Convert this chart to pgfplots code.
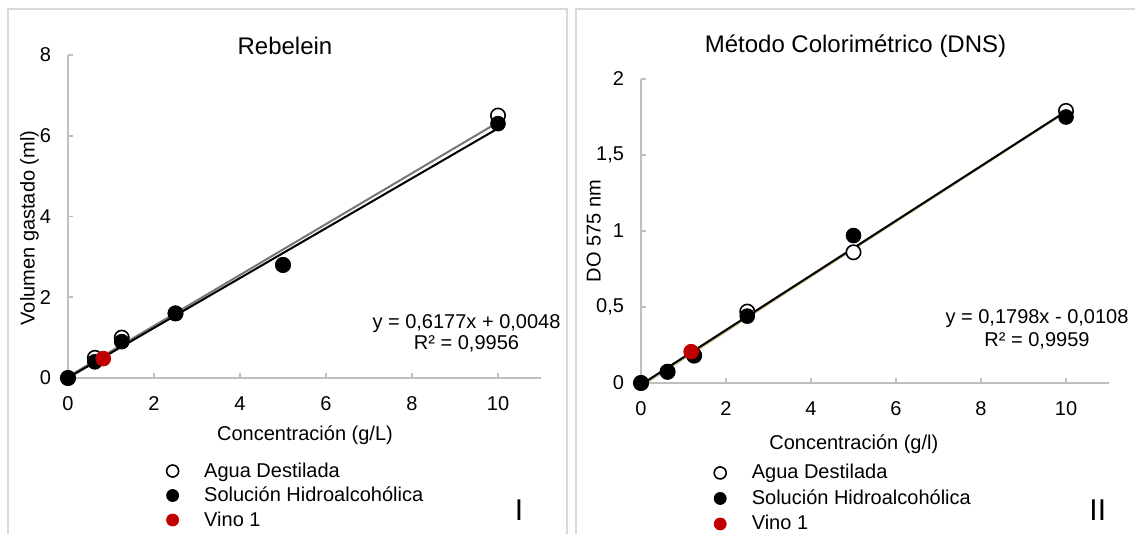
\documentclass[border=0pt]{standalone}
\usepackage{fontspec}
\setmainfont{Liberation Sans}
\usepackage{pgfplots}
\pgfplotsset{compat=1.18}
\definecolor{axisgray}{RGB}{191,191,191}
\definecolor{framegray}{RGB}{217,217,217}
\definecolor{vinored}{RGB}{192,0,0}
\definecolor{trendgray}{RGB}{118,118,118}
\definecolor{trendtan}{RGB}{196,182,128}

\pgfplotsset{
  panel/.style={
    scale only axis, clip=false,
    axis x line=bottom, axis y line=left,
    axis line style={draw=axisgray, line width=0.9pt, -},
    tick style={draw=axisgray, line width=0.9pt},
    major tick length=2.5pt, tick align=inside,
    tick label style={font=\fontsize{10}{12}\selectfont, text=black},
    xticklabel shift=5.6pt, yticklabel shift=5pt,
    /pgf/number format/use comma,
    /pgf/number format/1000 sep={},
    /pgf/number format/assume math mode=true,
    xmin=0, xmax=11, xtick={0,2,4,6,8,10},
    legend cell align=left,
    legend image code/.code={\draw[##1, mark size=3pt] plot coordinates {(0pt,0pt)};},
  },
  agua/.style={only marks, mark=*, mark size=3.6pt, mark options={fill=white, draw=black, line width=0.8pt}},
  sol/.style={only marks, mark=*, mark size=3.7pt, mark options={fill=black, draw=black, line width=0.4pt}},
  vino/.style={only marks, mark=*, mark size=3.7pt, mark options={fill=vinored, draw=vinored, line width=0.4pt}},
}

\begin{document}
\begin{tikzpicture}
\useasboundingbox (0,0) rectangle (567.5pt,-267pt);
\draw[framegray, line width=1pt] (4pt,-280pt) -- (4pt,-4.65pt) -- (283.7pt,-4.65pt) -- (283.7pt,-280pt);
\draw[framegray, line width=1pt] (287.75pt,-280pt) -- (287.75pt,-4.65pt) -- (580pt,-4.65pt);

% ---------- Panel I : Rebelein ----------
\begin{axis}[panel, at={(34pt,-189pt)}, anchor=south west,
  width=236.5pt, height=161.5pt,
  ymin=0, ymax=8, ytick={0,2,4,6,8},
  legend style={draw=none, fill=none, at={(0.2085,-0.257)}, anchor=north west,
    font=\fontsize{10}{12}\selectfont, inner sep=0pt, outer sep=0pt,
    row sep=2.25pt, column sep=12.8pt,
    nodes={inner sep=0pt, text height=8pt, text depth=2pt}},
]
\addplot[agua] coordinates {(0,0) (0.625,0.5) (1.25,1.0) (2.5,1.6) (5,2.8) (10,6.5)};
\addlegendentry{Agua Destilada}
\addplot[sol] coordinates {(0,0) (0.625,0.4) (1.25,0.9) (2.5,1.6) (5,2.8) (10,6.3)};
\addlegendentry{Solución Hidroalcohólica}
\addplot[vino] coordinates {(0.82,0.48)};
\addlegendentry{Vino 1}
\addplot[trendgray, line width=1pt, forget plot] coordinates {(0,0.032) (10,6.332)};
\addplot[black, line width=1pt, forget plot] coordinates {(0,0.0048) (10,6.1818)};
\end{axis}

% ---------- Panel II : DNS ----------
\begin{axis}[panel, at={(320.5pt,-191.5pt)}, anchor=south west,
  width=233.75pt, height=152pt,
  ymin=0, ymax=2, ytick={0,0.5,1,1.5,2},
  legend style={draw=none, fill=none, at={(0.1566,-0.263)}, anchor=north west,
    font=\fontsize{10}{12}\selectfont, inner sep=0pt, outer sep=0pt,
    row sep=2.75pt, column sep=12.8pt,
    nodes={inner sep=0pt, text height=8pt, text depth=2pt}},
]
\addplot[agua] coordinates {(0,0) (0.625,0.074) (1.25,0.18) (2.5,0.47) (5,0.86) (10,1.79)};
\addlegendentry{Agua Destilada}
\addplot[sol] coordinates {(0,0) (0.625,0.074) (1.25,0.184) (2.5,0.44) (5,0.97) (10,1.75)};
\addlegendentry{Solución Hidroalcohólica}
\addplot[vino] coordinates {(1.18,0.206)};
\addlegendentry{Vino 1}
\addplot[trendtan, line width=1pt, forget plot] coordinates {(0,-0.0206) (10,1.784)};
\addplot[black, line width=1pt, forget plot] coordinates {(0,-0.0108) (10,1.7872)};
\end{axis}

% ---------- texts ----------
\begin{scope}[every node/.style={inner sep=0pt, font=\fontsize{10}{12}\selectfont}]
\node[anchor=base, font=\fontsize{12}{14}\selectfont] at (142.5pt,-27.5pt) {Rebelein};
\node[anchor=base, font=\fontsize{12}{14}\selectfont] at (427.75pt,-26.4pt) {Método Colorimétrico (DNS)};
\node[anchor=base] at (152.5pt,-220.2pt) {Concentración (g/L)};
\node[anchor=base] at (426.9pt,-224.5pt) {Concentración (g/l)};
\node[anchor=base, rotate=90] at (17.25pt,-114pt) {Volumen gastado (ml)};
\node[anchor=base, rotate=90] at (300.3pt,-115.5pt) {DO 575 nm};
\node[anchor=base] at (233.25pt,-164.3pt) {y = 0,6177x + 0,0048};
\node[anchor=base] at (233.25pt,-175pt) {R² = 0,9956};
\node[anchor=base] at (518.5pt,-161.5pt) {y = 0,1798x - 0,0108};
\node[anchor=base] at (518.5pt,-173.1pt) {R² = 0,9959};
\node[anchor=base, font=\fontsize{15}{17}\selectfont] at (259.5pt,-260pt) {I};
\node[anchor=base, font=\fontsize{15}{17}\selectfont] at (548.9pt,-260pt) {II};
\end{scope}
\end{tikzpicture}
\end{document}
